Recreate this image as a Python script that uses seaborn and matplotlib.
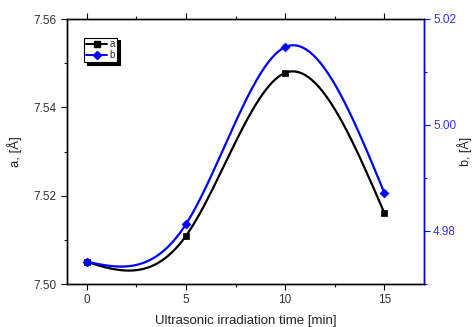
import numpy as np
import pandas as pd
import matplotlib
matplotlib.use("Agg")
import matplotlib.pyplot as plt
import seaborn as sns
from matplotlib.ticker import MultipleLocator

time_min = [0, 5, 10, 15]
a_vals = [7.505, 7.5109, 7.5478, 7.5161]
b_vals = [4.9742, 4.9813, 5.0147, 4.9872]


def natural_spline(x, y, n=300):
    x = np.asarray(x, float); y = np.asarray(y, float)
    m = len(x); h = np.diff(x)
    A = np.zeros((m, m)); r = np.zeros(m)
    A[0, 0] = A[-1, -1] = 1
    for i in range(1, m - 1):
        A[i, i - 1] = h[i - 1]; A[i, i] = 2 * (h[i - 1] + h[i]); A[i, i + 1] = h[i]
        r[i] = 3 * ((y[i + 1] - y[i]) / h[i] - (y[i] - y[i - 1]) / h[i - 1])
    c = np.linalg.solve(A, r)
    b = (np.diff(y) / h) - h * (2 * c[:-1] + c[1:]) / 3
    d = np.diff(c) / (3 * h)
    xs = np.linspace(x[0], x[-1], n)
    idx = np.clip(np.searchsorted(x, xs) - 1, 0, m - 2)
    dx = xs - x[idx]
    ys = y[idx] + b[idx] * dx + c[idx] * dx ** 2 + d[idx] * dx ** 3
    return xs, ys


sns.set_style("ticks")
plt.rcParams['font.family'] = ['Liberation Sans', 'DejaVu Sans']
plt.rcParams['font.size'] = 9

fig = plt.figure(figsize=(4.73, 3.27), dpi=100)
ax = fig.add_axes([67 / 473, 1 - 284 / 327, (424 - 67) / 473, (284 - 19) / 327])
ax2 = ax.twinx()

xa, ya = natural_spline(time_min, a_vals)
xb, yb = natural_spline(time_min, b_vals)
sns.lineplot(x=xa, y=ya, ax=ax, color='black', lw=1.6, legend=False)
sns.lineplot(x=xb, y=yb, ax=ax2, color='#0000ff', lw=1.6, legend=False)
sns.scatterplot(x=time_min, y=a_vals, ax=ax, marker='s', color='black', s=22, edgecolor='black', linewidth=0.5, zorder=5)
sns.scatterplot(x=time_min, y=b_vals, ax=ax2, marker='D', color='#0000ff', s=20, edgecolor='#0000ff', linewidth=0.5, zorder=5)

ax.set_xlim(-1, 17)
ax.set_ylim(7.50, 7.56)
ax.xaxis.set_major_locator(MultipleLocator(5))
ax.xaxis.set_minor_locator(MultipleLocator(2.5))
ax.yaxis.set_minor_locator(MultipleLocator(0.01))
ax.set_yticks([7.50, 7.52, 7.54, 7.56])
ax.set_yticklabels(["7.50", "7.52", "7.54", "7.56"])
ax.set_ylim(7.50, 7.56)
ax2.set_yticks([4.98, 5.00, 5.02])
ax2.set_yticklabels(["4.98", "5.00", "5.02"])
ax2.yaxis.set_minor_locator(MultipleLocator(0.01))
ax2.set_ylim(4.97, 5.02)

for a_ in (ax, ax2):
    for s in a_.spines.values():
        s.set_visible(True)
        s.set_linewidth(1.0)
        s.set_color('black')
ax2.spines['right'].set_color('#0000ff')
ax.tick_params(axis='both', which='major', direction='out', length=4, width=0.8, labelsize=8.5,
               colors='black', labelcolor='#333333')
ax.tick_params(axis='both', which='minor', direction='out', length=2.5, width=0.8)
ax.tick_params(axis='x', which='both', top=True)
ax2.tick_params(axis='y', which='major', direction='out', length=4, width=0.8, labelsize=8.5,
                colors='#0000ff', labelcolor='#3333ff', pad=2.5)
ax2.tick_params(axis='y', which='minor', direction='out', length=2.5, width=0.8, colors='#0000ff')

ax.set_xlabel("Ultrasonic irradiation time [min]", fontsize=9.5, labelpad=6, color='#222222')
ax.set_ylabel("a, [Å]", fontsize=9.5, labelpad=8, color='#222222')
ax2.set_ylabel("b, [Å]", fontsize=9, labelpad=1, color='#222222')

from matplotlib.lines import Line2D
h = [Line2D([], [], color='black', marker='s', ms=4, lw=1.4),
     Line2D([], [], color='#0000ff', marker='D', ms=4, lw=1.4)]
leg = ax.legend(h, ['a', 'b'], loc='upper left', bbox_to_anchor=(0.048, 0.93), fontsize=7,
                frameon=True, fancybox=False, shadow={'color': 'black', 'alpha': 1.0},
                handlelength=2.2, handletextpad=0.2,
                borderpad=0.2, labelspacing=0.1, borderaxespad=0, framealpha=1)
leg.get_frame().set_edgecolor('black')
leg.get_frame().set_linewidth(0.8)

fig.savefig("out.png", dpi=100)
